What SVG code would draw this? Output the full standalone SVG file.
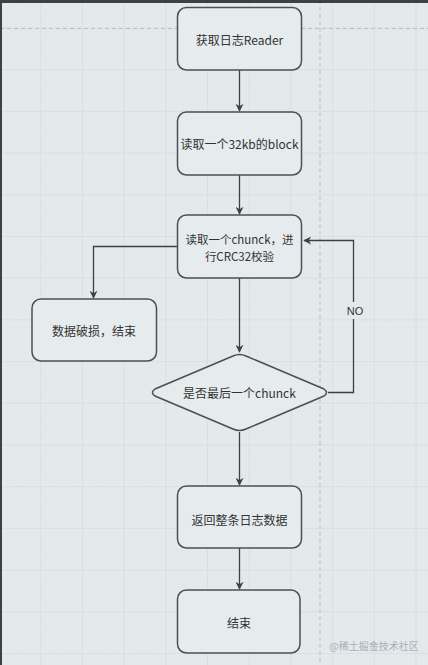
<svg xmlns="http://www.w3.org/2000/svg" width="428" height="665" viewBox="0 0 428 665">
<defs>
<pattern id="minor" width="8.34" height="8.34" patternUnits="userSpaceOnUse" x="-0.5" y="3">
<path d="M8.34 0V8.34M0 8.34H8.34" fill="none" stroke="#dfe4e7" stroke-width="0.5"/>
</pattern>
<pattern id="major" width="41.7" height="41.7" patternUnits="userSpaceOnUse" x="-0.5" y="28.5">
<path d="M41.7 0V41.7M0 41.7H41.7" fill="none" stroke="#cfd6da" stroke-width="1"/>
</pattern>
<marker id="arr" viewBox="0 0 10 10" refX="9" refY="5" markerWidth="8" markerHeight="8" markerUnits="userSpaceOnUse" orient="auto">
<path d="M0 0L10 5L0 10L3 5Z" fill="#3c4146"/>
</marker>
<style>
.node rect,.node path{fill:#e6ebee;stroke:#4b5056;stroke-width:1.5}
text{font-family:"Noto Sans CJK SC","Liberation Sans",sans-serif;font-size:12px;fill:#333;text-anchor:middle;dominant-baseline:central}
.edge{fill:none;stroke:#3c4146;stroke-width:1.3}
</style>
</defs>
<rect width="428" height="665" fill="#e4e9ec"/>
<rect width="428" height="665" fill="url(#minor)"/>
<rect width="428" height="665" fill="url(#major)"/>
<line x1="0" y1="28.5" x2="428" y2="28.5" stroke="#b9c0c5" stroke-dasharray="4 3"/>
<line x1="320" y1="0" x2="320" y2="665" stroke="#b9c0c5" stroke-dasharray="4 3"/>
<rect width="428" height="3" fill="#3c4146"/>
<rect width="2" height="665" fill="#3c4146"/>

<g id="connectors">
<path class="edge" d="M239.5 70V111" marker-end="url(#arr)"/>
<path class="edge" d="M239.5 175V214" marker-end="url(#arr)"/>
<path class="edge" d="M177 246.5H93.5V298" marker-end="url(#arr)"/>
<path class="edge" d="M239.5 278V352" marker-end="url(#arr)"/>
<path class="edge" d="M328 392.5H353.5V240.5H304" marker-end="url(#arr)"/>
<rect x="343" y="302" width="22" height="17" fill="#e4e9ec"/>
<text x="355" y="311" style="font-family:'Liberation Sans',sans-serif;font-size:11px">NO</text>
<path class="edge" d="M239.5 432V485" marker-end="url(#arr)"/>
<path class="edge" d="M239.5 548V589" marker-end="url(#arr)"/>
</g>

<g id="n1" class="node">
<rect x="177.5" y="7.5" width="124" height="62.5" rx="9"/>
<text x="239.5" y="39">获取日志Reader</text>
</g>
<g id="n2" class="node">
<rect x="177.5" y="112" width="124" height="63" rx="9"/>
<text x="239.5" y="143.5">读取一个32kb的block</text>
</g>
<g id="n3" class="node">
<rect x="177.5" y="215" width="124" height="63" rx="9"/>
<text x="239.5" y="239" style="font-size:11.5px">读取一个chunck，进</text>
<text x="239.5" y="256" style="font-size:11.5px">行CRC32校验</text>
</g>
<g id="n4" class="node">
<rect x="32" y="299" width="124.5" height="62" rx="9"/>
<text x="94" y="330">数据破损，结束</text>
</g>
<g id="n5" class="node">
<path d="M233 356Q239.5 353 246 356L324 389Q329 392.5 324 396L246 429Q239.5 432 233 429L155 396Q150 392.5 155 389Z"/>
<text x="239.5" y="392.5">是否最后一个chunck</text>
</g>
<g id="n6" class="node">
<rect x="177.5" y="486" width="124" height="62" rx="9"/>
<text x="239.5" y="519">返回整条日志数据</text>
</g>
<g id="n7" class="node">
<rect x="177.5" y="590" width="122.5" height="63" rx="9"/>
<text x="239" y="622">结束</text>
</g>
<text x="374" y="645" style="font-size:10px;fill:#a9b0b5">@稀土掘金技术社区</text>
</svg>
